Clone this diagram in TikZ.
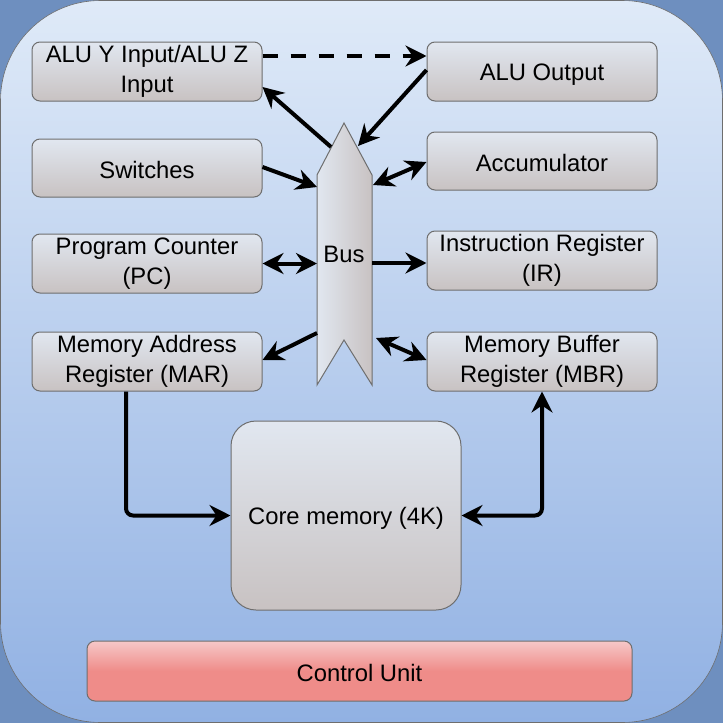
\documentclass[tikz,border=0pt]{standalone}
\usepackage{fontspec}
\setmainfont{Liberation Sans}
\usetikzlibrary{arrows.meta,calc}
\definecolor{cornerblue}{HTML}{6E8FBF}
\definecolor{bgtop}{HTML}{DFEAF8}
\definecolor{bgbot}{HTML}{91B1E3}
\definecolor{boxtop}{HTML}{E1E7F0}
\definecolor{boxbot}{HTML}{C8C2C2}
\definecolor{boxline}{HTML}{6E6E6E}
\definecolor{cutop}{HTML}{F6C8C8}
\definecolor{cubot}{HTML}{EF8C89}
\tikzset{
  reg/.style={draw=boxline, line width=1pt, rounded corners=8pt, top color=boxtop, bottom color=boxbot,
    minimum width=230pt, minimum height=59pt, inner sep=0pt, align=center,
    font=\fontsize{23.8}{29.5}\selectfont, execute at begin node={\rule{0pt}{22pt}}},
  tipb/.tip={Stealth[length=21pt,width=21pt,inset=7pt]},
  conn/.style={line width=4pt, -tipb},
  bconn/.style={line width=4pt, tipb-tipb},
}
\begin{document}
\begin{tikzpicture}[x=1pt,y=-1pt]
\useasboundingbox (0,0) rectangle (723,723);
\fill[cornerblue] (0,0) rectangle (723,723);
\shade[top color=bgtop, bottom color=bgbot, draw=boxline, line width=0.6pt, rounded corners=100pt] (0.5,0.5) rectangle (722.5,722.5);

\node[reg] (aluy) at (147,71.5) {ALU Y Input/ALU Z\\Input};
\node[reg] (aluout) at (542,71.5) {ALU Output};
\node[reg, minimum height=58pt] (sw) at (147,168) {Switches};
\node[reg, minimum height=58pt] (acc) at (542,161) {Accumulator};
\node[reg] (pc) at (147,263.5) {Program Counter\\(PC)};
\node[reg] (ir) at (542,260.5) {Instruction Register\\(IR)};
\node[reg] (mar) at (147,361.5) {Memory Address\\Register (MAR)};
\node[reg] (mbr) at (542,361.5) {Memory Buffer\\Register (MBR)};
\node[reg, minimum height=189pt, rounded corners=25pt] (core) at (346,515.5) {Core memory (4K)};
\node[reg, draw=boxline, top color=cutop, bottom color=cubot, middle color=cubot, minimum width=545pt, minimum height=60pt] (cu) at (359.5,671) {Control Unit};

% Bus
\shade[left color=boxtop, right color=boxbot, draw=boxline, line width=1pt]
  (317,175) -- (344,123) -- (372,175) -- (372,385) -- (344,340) -- (317,385) -- cycle;
\node[font=\fontsize{23.8}{28}\selectfont] (bus) at (344,254) {Bus};
\coordinate (busA) at (331,147);
\coordinate (busB) at (358,146);
\coordinate (busSw) at (317,187);
\coordinate (busAcc) at (373,185);
\coordinate (busPC) at (317,263.5);
\coordinate (busIR) at (372,263);
\coordinate (busMAR) at (317,333);
\coordinate (busMBR) at (376,338);

\draw[conn, dash pattern=on 15pt off 13pt] ([yshift=15.5pt]aluy.east) -- ([yshift=15.5pt]aluout.west);
\draw[conn] (busA) -- ([yshift=-15.5pt]aluy.east);
\draw[conn] ([yshift=1.5pt]aluout.west) -- (busB);
\draw[conn] ([yshift=1pt]sw.east) -- (busSw);
\draw[bconn] (busAcc) -- ([yshift=-1pt]acc.west);
\draw[bconn] (pc.east) -- (busPC);
\draw[conn] (busIR) -- ([yshift=-2.5pt]ir.west);
\draw[conn] (busMAR) -- ([yshift=1.5pt]mar.east);
\draw[bconn] (busMBR) -- ([yshift=1.5pt]mbr.west);
\draw[conn, rounded corners=7pt] ([xshift=-21pt]mar.south) |- (core.west);
\draw[bconn, rounded corners=7pt] (core.east) -| (mbr.south);
\end{tikzpicture}
\end{document}
